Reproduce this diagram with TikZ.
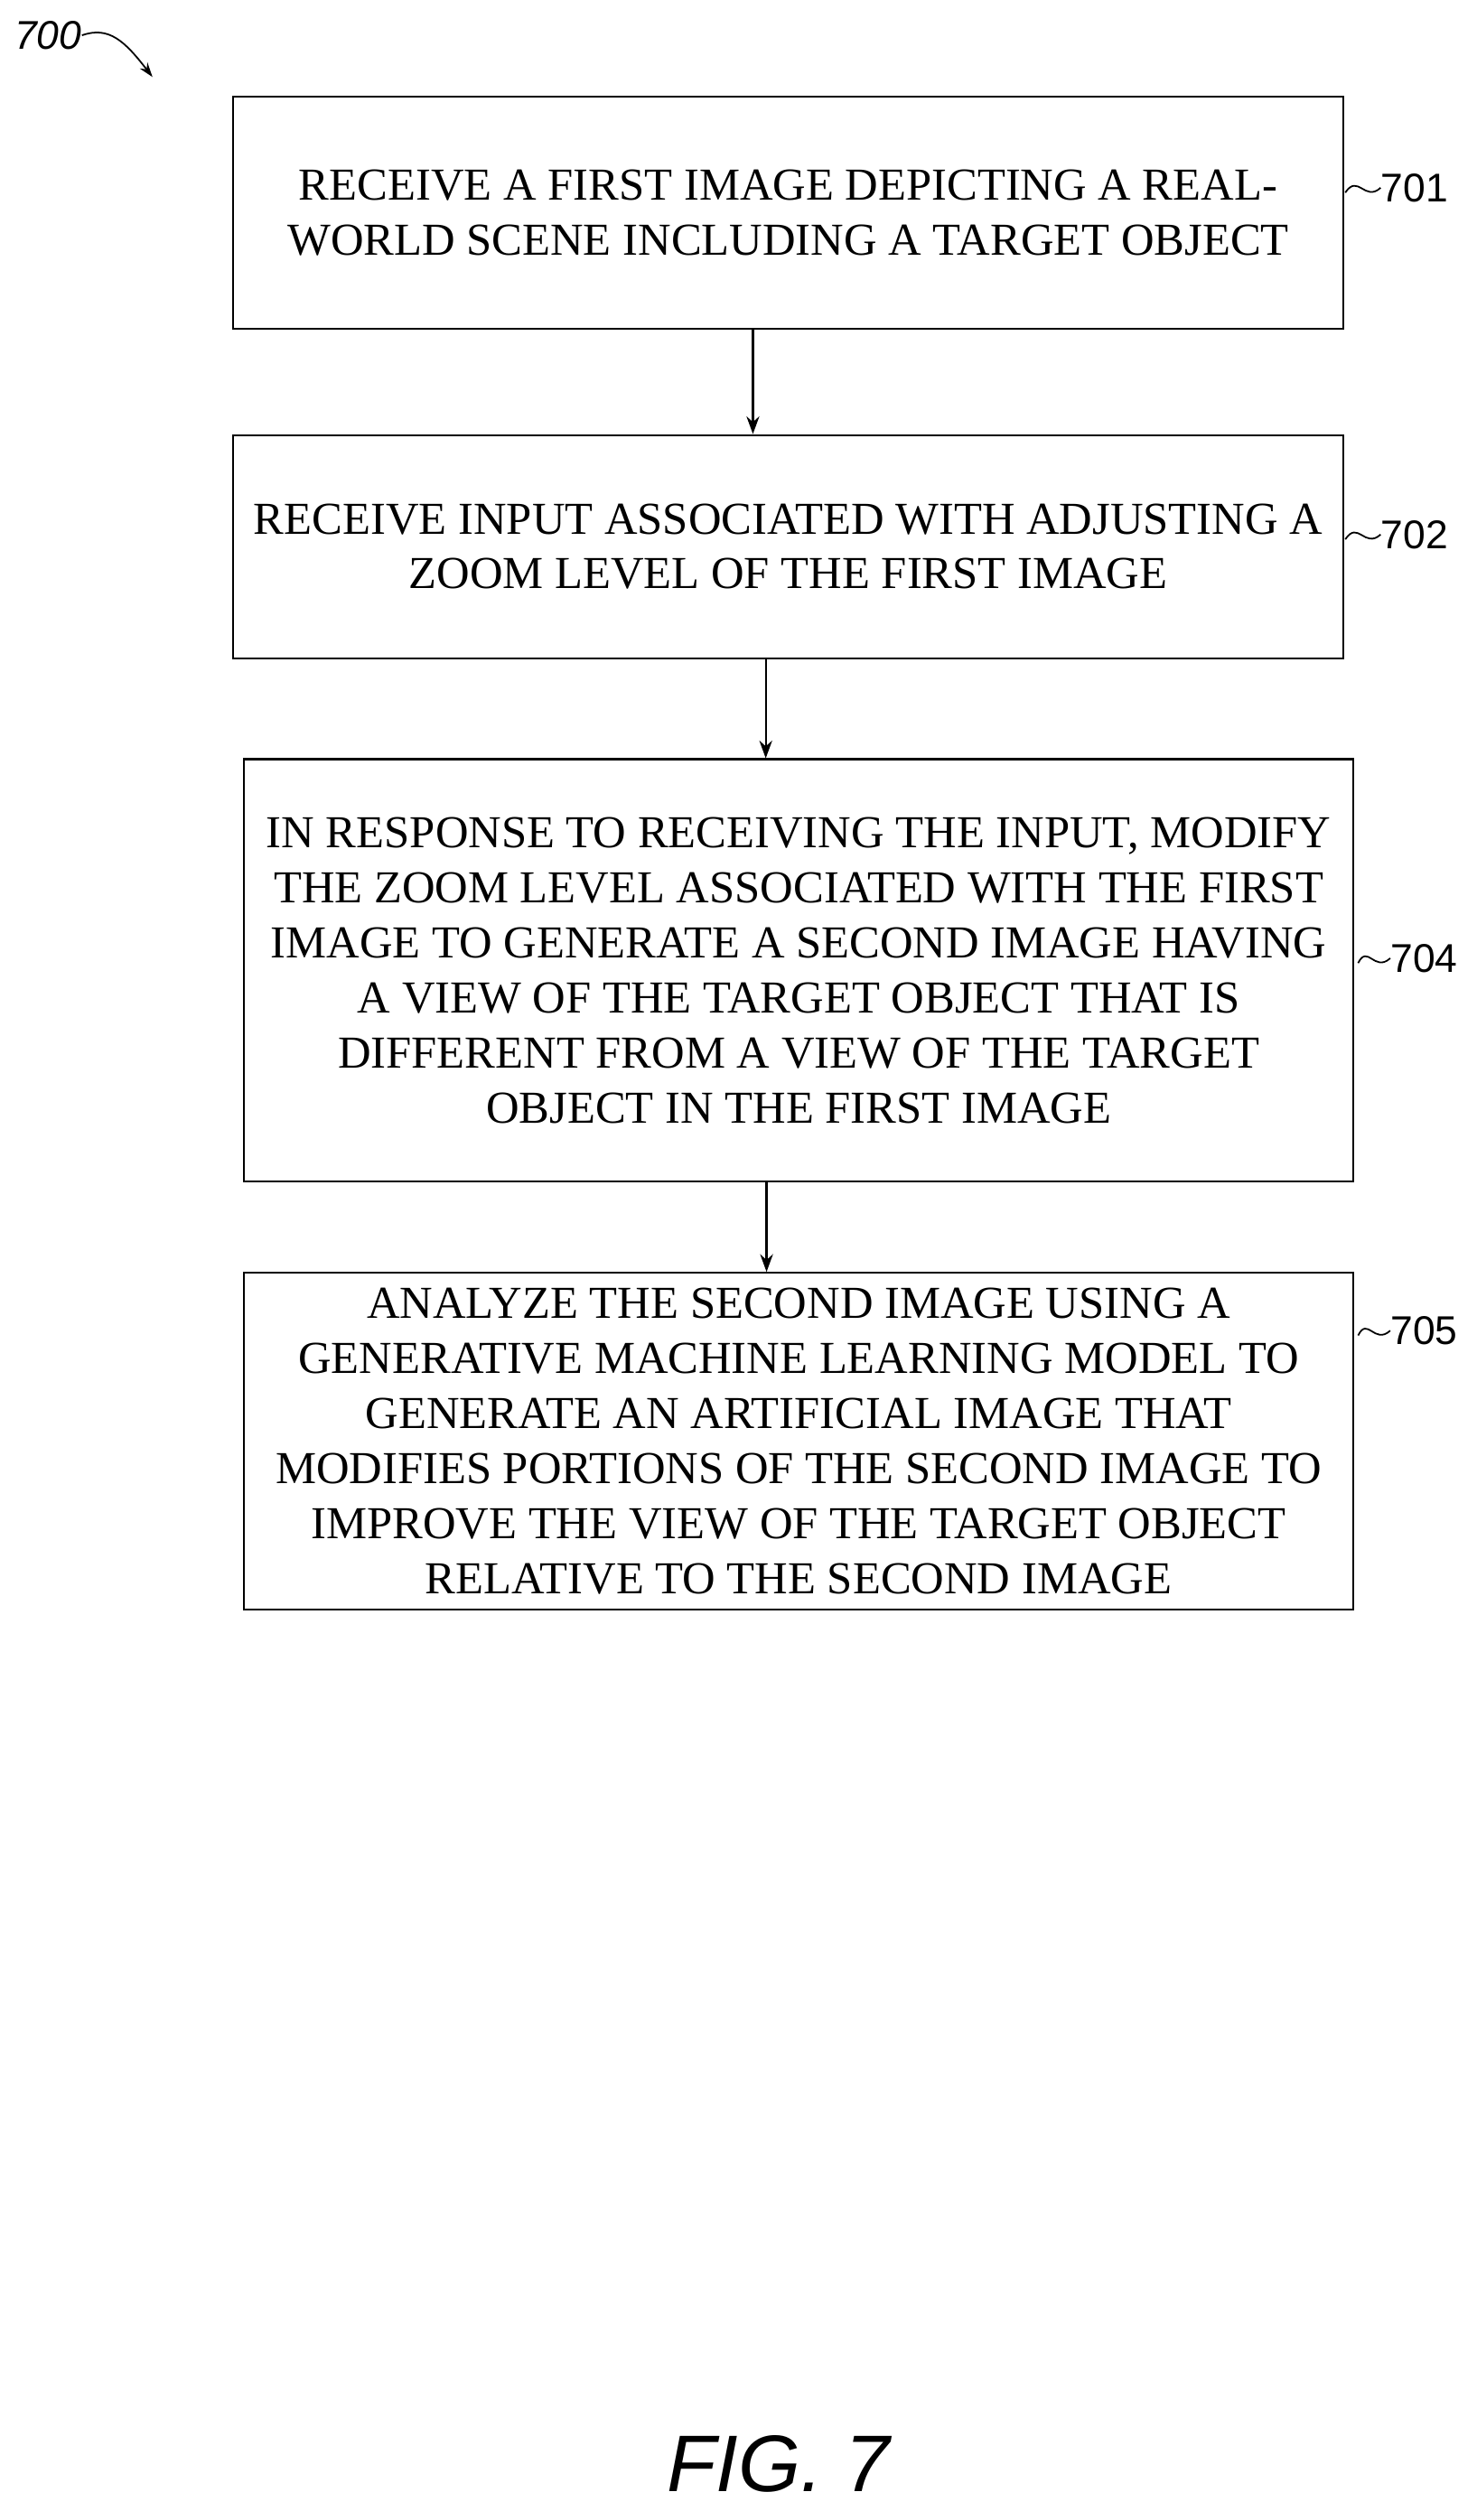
\documentclass[tikz,border=0pt]{standalone}
\usepackage{fontspec}
\setmainfont{Liberation Serif}
\newfontfamily\labelfont{Liberation Sans}
\usetikzlibrary{positioning, arrows.meta}
\tikzset{
  flowbox/.style={draw, line width=1.2pt, align=center, font=\fontsize{28.5}{34.3}\selectfont, inner sep=0pt},
  arr/.style={-{Stealth[length=11pt,width=8pt]}, line width=1.2pt},
  refnum/.style={font=\labelfont\fontsize{25}{28}\selectfont, anchor=west, inner sep=0pt},
  squig/.style={line width=1pt}
}
\begin{document}
\begin{tikzpicture}[x=1pt,y=1pt,yscale=-1]
\useasboundingbox (0,0) rectangle (920,1570);

% Boxes
\node[flowbox, minimum width=692pt, minimum height=145pt] (b701) at (491,132.5)
  {RECEIVE A FIRST IMAGE DEPICTING A REAL-\\WORLD SCENE INCLUDING A TARGET OBJECT};
\node[flowbox, minimum width=692pt, minimum height=139pt] (b702) at (491,340.5)
  {RECEIVE INPUT ASSOCIATED WITH ADJUSTING A\\ZOOM LEVEL OF THE FIRST IMAGE};
\node[flowbox, minimum width=691pt, minimum height=263pt] (b704) at (497.5,604.5)
  {IN RESPONSE TO RECEIVING THE INPUT, MODIFY\\THE ZOOM LEVEL ASSOCIATED WITH THE FIRST\\IMAGE TO GENERATE A SECOND IMAGE HAVING\\A VIEW OF THE TARGET OBJECT THAT IS\\DIFFERENT FROM A VIEW OF THE TARGET\\OBJECT IN THE FIRST IMAGE};
\node[flowbox, minimum width=691pt, minimum height=210pt] (b705) at (497.5,898)
  {ANALYZE THE SECOND IMAGE USING A\\GENERATIVE MACHINE LEARNING MODEL TO\\GENERATE AN ARTIFICIAL IMAGE THAT\\MODIFIES PORTIONS OF THE SECOND IMAGE TO\\IMPROVE THE VIEW OF THE TARGET OBJECT\\RELATIVE TO THE SECOND IMAGE};

% Arrows
\draw[arr] ([xshift=-22pt]b701.south) -- ([xshift=-22pt]b701.south |- b702.north);
\draw[arr] ([xshift=-14pt]b702.south) -- ([xshift=-14pt]b702.south |- b704.north);
\draw[arr] ([xshift=-20pt]b704.south) -- ([xshift=-20pt]b704.south |- b705.north);

% Reference numerals
\node[refnum] (n701) at (860,117) {701};
\node[refnum] (n702) at (860,333) {702};
\node[refnum] (n704) at (866,597) {704};
\node[refnum] (n705) at (866,829) {705};
\draw[squig] (838,120) .. controls (846,108) and (850,126) .. (n701.west);
\draw[squig] (838,336) .. controls (846,324) and (850,342) .. (n702.west);
\draw[squig] (846,600) .. controls (852,588) and (856,606) .. (n704.west);
\draw[squig] (846,832) .. controls (852,820) and (856,838) .. (n705.west);

% Figure number
\node[font=\labelfont\itshape\fontsize{25}{28}\selectfont, inner sep=0pt] (n700) at (30,22) {700};
\coordinate (t700) at (95,48);
\draw[-{Stealth[length=9pt,width=6pt]}, line width=1pt] (n700.east) .. controls (68,16) and (78,26) .. (t700);
\node[font=\labelfont\itshape\fontsize{50}{56}\selectfont] (fig) at (485,1535) {FIG. 7};
\end{tikzpicture}
\end{document}
